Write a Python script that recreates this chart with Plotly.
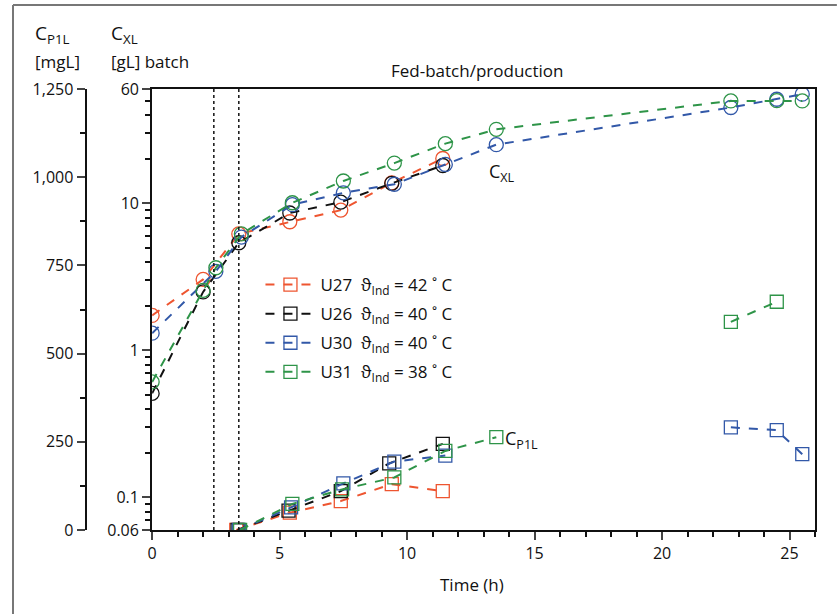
import plotly.graph_objects as go

# ---- data ----
names = ["U27", "U26", "U30", "U31"]
legend_labels = [
    "U27  ϑ<sub>Ind</sub> = 42 ˚ C",
    "U26  ϑ<sub>Ind</sub> = 40 ˚ C",
    "U30  ϑ<sub>Ind</sub> = 40 ˚ C",
    "U31  ϑ<sub>Ind</sub> = 38 ˚ C",
]
colors = ["#EE5530", "#111111", "#3258A8", "#2E9448"]

# biomass C_XL [g/L] (log axis)
t_x_U27 = [0, 2.0, 3.4, 5.4, 7.4, 9.4, 11.4]
x_U27 = [1.73, 3.04, 6.2, 7.5, 9.0, 13.8, 20.2]
t_x_U26 = [0, 2.0, 3.4, 5.4, 7.4, 9.4, 11.4]
x_U26 = [0.51, 2.5, 5.4, 8.6, 10.2, 13.7, 18.1]
t_x_U30 = [0, 2.5, 3.5, 5.5, 7.5, 9.5, 11.5, 13.5, 22.7, 24.5, 25.5]
x_U30 = [1.31, 3.45, 5.9, 9.8, 11.8, 13.5, 18.4, 25.1, 44.9, 51.1, 55.3]
t_x_U31 = [0, 2.0, 2.5, 3.5, 5.5, 7.5, 9.5, 11.5, 13.5, 22.7, 24.5, 25.5]
x_U31 = [0.61, 2.56, 3.65, 6.2, 10.1, 14.2, 18.8, 25.5, 31.9, 49.8, 50.0, 49.8]

# product C_P1L [mg/L] (linear axis); None = break in line
t_p_U27 = [3.3, 5.4, 7.4, 9.4, 11.4]
p_U27 = [0, 49, 82, 130, 110]
t_p_U26 = [3.35, 5.35, 7.4, 9.3, 11.4]
p_U26 = [0, 55, 110, 189, 244]
t_p_U30 = [3.4, 5.45, 7.5, 9.5, 11.5, 17.0, 22.7, 24.5, 25.5]
p_U30 = [0, 64, 132, 194, 211, None, 291, 283, 215]
t_p_U31 = [3.45, 5.5, 7.45, 9.5, 11.5, 13.5, 18.0, 22.7, 24.5]
p_U31 = [0, 74, 115, 149, 224, 263, None, 590, 647]

phase_lines = [2.42, 3.4]

x_series = [(t_x_U27, x_U27), (t_x_U26, x_U26), (t_x_U30, x_U30), (t_x_U31, x_U31)]
p_series = [(t_p_U27, p_U27), (t_p_U26, p_U26), (t_p_U30, p_U30), (t_p_U31, p_U31)]

# ---- layout geometry ----
W, H = 837, 614
ml, mr, mt, mb = 8, 22, 89, 84
pw = W - ml - mr
ph = H - mt - mb
x_dom0 = (148 - ml) / pw
outer_pos = (81 - ml) / pw

FONT = "Open Sans"

fig = go.Figure()

for (t, v), c in zip(x_series, colors):
    fig.add_trace(go.Scatter(
        x=t, y=v, mode="lines+markers", yaxis="y", showlegend=False,
        line=dict(color=c, width=2, dash="dash"),
        marker=dict(symbol="circle-open", size=14, color=c, line=dict(width=1.3, color=c)),
    ))

for i, ((t, v), c, lab) in enumerate(zip(p_series, colors, legend_labels)):
    fig.add_trace(go.Scatter(
        x=t, y=v, mode="lines+markers", yaxis="y2", name=lab, legendgroup=f"g{i}",
        connectgaps=False,
        line=dict(color=c, width=2, dash="dash"),
        marker=dict(symbol="square-open", size=13, color=c, line=dict(width=1.3, color=c)),
    ))

log_minor = [0.07, 0.08, 0.09] + [k / 10 for k in range(2, 10)] + list(range(2, 10)) + [20, 30, 40, 50]

fig.update_layout(
    width=W, height=H,
    margin=dict(l=ml, r=mr, t=mt, b=mb),
    paper_bgcolor="white", plot_bgcolor="white",
    font=dict(family=FONT, size=16, color="#111"),
    xaxis=dict(
        domain=[x_dom0, 1], range=[0, 26],
        tickvals=[0, 5, 10, 15, 20, 25], ticks="outside", ticklen=8, tickwidth=2,
        minor=dict(tickvals=list(range(0, 27)), ticks="outside", ticklen=5, tickwidth=1.5, tickcolor="#111"),
        showline=True, linewidth=2, linecolor="#111", mirror=True,
        showgrid=False, zeroline=False, tickfont=dict(size=16),
    ),
    yaxis=dict(
        type="log", range=[-1.2218, 1.7782], anchor="x",
        tickvals=[0.06, 0.1, 1, 10, 60], ticktext=["0.06", "0.1", "1", "10", "60"],
        ticks="outside", ticklen=8, tickwidth=2,
        minor=dict(tickvals=log_minor, ticks="outside", ticklen=5, tickwidth=1.5, tickcolor="#111"),
        showline=True, linewidth=2, linecolor="#111", mirror=True,
        showgrid=False, zeroline=False, tickfont=dict(size=16),
    ),
    yaxis2=dict(
        range=[0, 1250], overlaying="y", anchor="free", position=outer_pos, side="left",
        tickvals=[0, 250, 500, 750, 1000, 1250],
        ticktext=["0", "250", "500", "750", "1,000", "1,250"],
        ticks="outside", ticklen=8, tickwidth=2,
        minor=dict(tickvals=[125, 375, 625, 875, 1125], ticks="outside", ticklen=5, tickwidth=1.5, tickcolor="#111"),
        showline=True, linewidth=2, linecolor="#111",
        showgrid=False, zeroline=False, tickfont=dict(size=16),
    ),
    legend=dict(
        x=(257 - ml) / pw, y=1 - (267 - mt) / ph, xanchor="left", yanchor="top",
        bgcolor="rgba(255,255,255,1)", font=dict(size=17, family=FONT),
        tracegroupgap=4, itemwidth=50,
    ),
)

for tx in phase_lines:
    fig.add_shape(type="line", xref="x", yref="paper", x0=tx, x1=tx, y0=0, y1=1,
                  line=dict(color="#111", width=1.5, dash="dot"))

# outer gray frame (top and left)
fig.add_shape(type="line", xref="paper", yref="paper", x0=0, x1=1 + mr / pw,
              y0=1 + (mt - 5) / ph, y1=1 + (mt - 5) / ph, line=dict(color="#777", width=2))
fig.add_shape(type="line", xref="paper", yref="paper", x0=0, x1=0,
              y0=-mb / ph, y1=1 + (mt - 5) / ph, line=dict(color="#777", width=2))

def px_x(px):
    return (px - ml) / pw

def px_y(py):
    return 1 - (py - mt) / ph

anns = [
    dict(text="Fed-batch/production", x=px_x(475), y=px_y(71), size=17, xa="center", ya="middle"),
    dict(text="C<sub>P1L</sub>", x=px_x(29), y=px_y(49), size=19, xa="left", ya="bottom"),
    dict(text="[mgL]", x=px_x(29), y=px_y(49), size=17, xa="left", ya="top"),
    dict(text="C<sub>XL</sub>", x=px_x(106), y=px_y(49), size=19, xa="left", ya="bottom"),
    dict(text="[gL] batch", x=px_x(106), y=px_y(49), size=17, xa="left", ya="top"),
    dict(text="Time (h)", x=px_x(470), y=px_y(584), size=17, xa="center", ya="middle"),
    dict(text="C<sub>XL</sub>", x=px_x(486), y=px_y(172), size=18, xa="left", ya="middle"),
    dict(text="C<sub>P1L</sub>", x=px_x(502), y=px_y(439), size=18, xa="left", ya="middle"),
]
for a in anns:
    fig.add_annotation(text=a["text"], x=a["x"], y=a["y"], xref="paper", yref="paper",
                       xanchor=a["xa"], yanchor=a["ya"], showarrow=False, align="left",
                       borderpad=0,
                       font=dict(size=a["size"], family=FONT, color="#111"))

fig.write_html("out.html")
